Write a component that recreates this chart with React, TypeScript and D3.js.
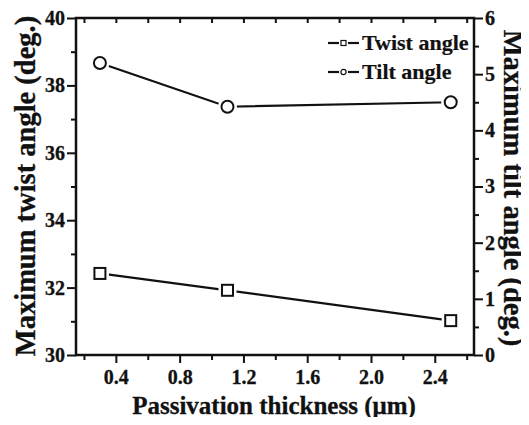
import { useEffect, useRef } from 'react'
import * as d3 from 'd3'

const thickness = [0.3, 1.1, 2.5]
const twistAngle = [32.42, 31.92, 31.02]
const tiltAngle = [5.2, 4.42, 4.5]
const xTicks = [0.4, 0.8, 1.2, 1.6, 2.0, 2.4]
const leftTicks = [30, 32, 34, 36, 38, 40]
const rightTicks = [0, 1, 2, 3, 4, 5, 6]
const legendLabels = ['Twist angle', 'Tilt angle']

export default function App() {
  const svgRef = useRef<SVGSVGElement>(null)

  useEffect(() => {
    if (!svgRef.current) return
    const svg = d3.select(svgRef.current)
    svg.selectAll('*').remove()

    const W = 529, H = 425
    const margin = { top: 18, right: 55, bottom: 70, left: 76 }
    const width = W - margin.left - margin.right
    const height = H - margin.top - margin.bottom
    const font = '"Liberation Serif", "Times New Roman", serif'

    svg.append('rect').attr('width', W).attr('height', H).attr('fill', '#fff')

    const g = svg.append('g').attr('transform', `translate(${margin.left},${margin.top})`)

    const x = d3.scaleLinear().domain([0.15, 2.646]).range([0, width])
    const yL = d3.scaleLinear().domain([30, 40]).range([height, 0])
    const yR = d3.scaleLinear().domain([0, 6]).range([height, 0])

    const styleAxis = (sel: any) => {
      sel.select('.domain').remove()
      sel.selectAll('line').attr('stroke', '#111').attr('stroke-width', 2)
      sel.selectAll('text')
        .attr('font-family', font)
        .attr('font-weight', 'bold')
        .attr('font-size', 20)
        .attr('fill', '#111')
        .attr('stroke', '#111').attr('stroke-width', 0.3)
    }

    // minor ticks
    const xMinor = d3.range(0.2, 2.65, 0.4)
    g.append('g').attr('transform', `translate(0,${height})`)
      .call(d3.axisBottom(x).tickValues(xMinor).tickSize(5).tickFormat(() => ''))
      .call(styleAxis)
    g.append('g')
      .call(d3.axisBottom(x).tickValues(xTicks.concat(xMinor)).tickSize(5).tickFormat(() => ''))
      .call(styleAxis)
    g.append('g').call(d3.axisLeft(yL).tickValues([31, 33, 35, 37, 39]).tickSize(5).tickFormat(() => ''))
      .call(styleAxis)
    g.append('g').attr('transform', `translate(${width},0)`)
      .call(d3.axisRight(yR).tickValues(d3.range(0.5, 6, 1)).tickSize(5).tickFormat(() => ''))
      .call(styleAxis)

    // major axes
    const xAxis = g.append('g').attr('transform', `translate(0,${height})`)
      .call(d3.axisBottom(x).tickValues(xTicks).tickSize(8).tickPadding(3).tickFormat(d3.format('.1f')))
      .call(styleAxis)
    xAxis.selectAll('text').attr('dy', '0.9em')
    g.append('g')
      .call(d3.axisLeft(yL).tickValues(leftTicks).tickSize(9).tickPadding(2).tickFormat(d3.format('d')))
      .call(styleAxis)
    g.append('g').attr('transform', `translate(${width},0)`)
      .call(d3.axisRight(yR).tickValues(rightTicks).tickSize(9).tickPadding(2).tickFormat(d3.format('d')))
      .call(styleAxis)

    // frame
    g.append('rect').attr('width', width).attr('height', height)
      .attr('fill', 'none').attr('stroke', '#111').attr('stroke-width', 2.5)

    // series
    const twistPts = thickness.map((t, i) => [x(t), yL(twistAngle[i])] as [number, number])
    const tiltPts = thickness.map((t, i) => [x(t), yR(tiltAngle[i])] as [number, number])
    const line = d3.line()
    g.append('path').attr('d', line(twistPts)).attr('fill', 'none').attr('stroke', '#111').attr('stroke-width', 2.2)
    g.append('path').attr('d', line(tiltPts)).attr('fill', 'none').attr('stroke', '#111').attr('stroke-width', 2.2)

    // white halo for the gap between line and marker
    g.selectAll('.sq-gap').data(twistPts).join('rect')
      .attr('x', d => d[0] - 9).attr('y', d => d[1] - 8).attr('width', 18).attr('height', 16)
      .attr('fill', '#fff')
    g.selectAll('.ci-gap').data(tiltPts).join('circle')
      .attr('cx', d => d[0]).attr('cy', d => d[1]).attr('r', 9.5)
      .attr('fill', '#fff')
    g.selectAll('.sq').data(twistPts).join('rect')
      .attr('x', d => d[0] - 5.5).attr('y', d => d[1] - 5.5)
      .attr('width', 11).attr('height', 11)
      .attr('fill', '#fff').attr('stroke', '#111').attr('stroke-width', 2)
    g.selectAll('.ci').data(tiltPts).join('circle')
      .attr('cx', d => d[0]).attr('cy', d => d[1]).attr('r', 6)
      .attr('fill', '#fff').attr('stroke', '#111').attr('stroke-width', 2)

    // legend
    const legend = g.append('g').attr('transform', `translate(${252},${25})`)
    legendLabels.forEach((label, i) => {
      const row = legend.append('g').attr('transform', `translate(0,${i * 29})`)
      row.append('line').attr('x1', 0).attr('x2', 31).attr('y1', 0).attr('y2', 0)
        .attr('stroke', '#111').attr('stroke-width', 2.2)
      if (i === 0) {
        row.append('rect').attr('x', 11).attr('y', -4.5).attr('width', 9).attr('height', 9)
          .attr('fill', '#fff')
        row.append('rect').attr('x', 13).attr('y', -2.5).attr('width', 5).attr('height', 5)
          .attr('fill', '#fff').attr('stroke', '#111').attr('stroke-width', 1.2)
      } else {
        row.append('circle').attr('cx', 15.5).attr('cy', 0).attr('r', 4.5).attr('fill', '#fff')
        row.append('circle').attr('cx', 15.5).attr('cy', 0).attr('r', 2.6)
          .attr('fill', '#fff').attr('stroke', '#111').attr('stroke-width', 1.2)
      }
      row.append('text').attr('x', 34).attr('y', 7)
        .attr('font-family', font).attr('font-weight', 'bold').attr('font-size', 22)
        .attr('fill', '#111').attr('stroke', '#111').attr('stroke-width', 0.2).text(label)
    })

    // titles
    const title = (sel: any, size: number) => sel
      .attr('text-anchor', 'middle')
      .attr('font-family', font).attr('font-weight', 'bold').attr('font-size', size)
      .attr('fill', '#111').attr('stroke', '#111').attr('stroke-width', 0.3)
    svg.append('text')
      .attr('transform', `translate(${35},${186}) rotate(-90)`)
      .call(title, 28.5).text('Maximum twist angle (deg.)')
    svg.append('text')
      .attr('transform', `translate(${504},${188}) rotate(90)`)
      .call(title, 28.5).text('Maximum tilt angle (deg.)')
    svg.append('text')
      .attr('x', margin.left + 198).attr('y', 414)
      .call(title, 25).text('Passivation thickness (\u03bcm)')
  }, [])

  return (
    <div style={{ margin: -8 }}>
      <svg ref={svgRef} width={529} height={425} style={{ display: 'block' }}></svg>
    </div>
  )
}
